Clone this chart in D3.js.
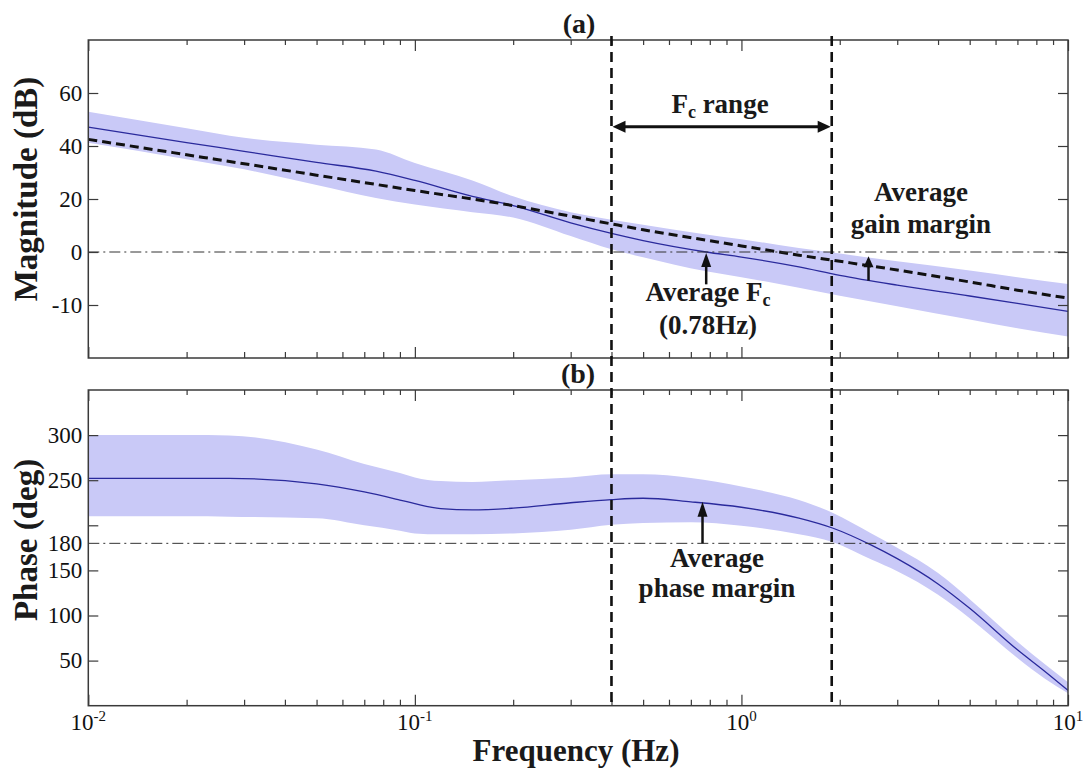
<!DOCTYPE html>
<html><head><meta charset="utf-8">
<script src="https://cdn.jsdelivr.net/npm/d3@7"></script>
<style>body{margin:0;background:#fff}svg{display:block}</style>
</head><body>
<svg id="c" width="1086" height="769"></svg>
<script>
// ---------- data ----------
const freqMag  = [0.01,0.02,0.03,0.05,0.076,0.1,0.15,0.2,0.3,0.4,0.5,0.78,1,1.5,2,3,5,7,10];
const magMean  = [47.1,41.3,38,33.8,30.5,27,21,17.5,11,7,4.3,0,-1.9,-5.6,-8.8,-12.5,-16.6,-19.4,-22.4];
const magModel = [42.5,36.7,33.3,29,25.5,23.2,20,17.5,13.5,10.6,8.4,4.5,2.3,-1.2,-3.5,-6.8,-11.3,-14.4,-17.4];
const magUpper = [52.9,46.7,43.1,40.5,38.7,33.6,27,21,15,12.2,10.3,6.6,4.8,1.5,-0.6,-3.5,-7,-9.5,-12.1];
const magLower = [41.2,35,31.2,25.3,20.4,17.9,15,13,6,1,-2,-7.3,-9.5,-13.5,-16.5,-20.5,-25.5,-28.8,-31.9];

const freqPh  = [0.01,0.02,0.027,0.05,0.07,0.09,0.1,0.12,0.15,0.2,0.3,0.4,0.5,0.7,1,1.5,1.9,2.5,3,4,5,7,8.5,10];
const phMean  = [252,252,252,246,237,228,224,218.5,217,219,225,228.5,230,226,220,208,197,178,163,135,108,62,38,17];
const phUpper = [300,300,299.5,284,268,258,253,249,248,250,253,256.5,256.5,252.5,243,228,214,191,175,147,118,71,46,26];
const phLower = [210,210,209.6,207.8,200,194,191,190,190,191,195,200.5,202.5,203.5,199.5,190,181.5,162,149,123,97,53,30,13.7];

const magTicks = [60,40,20,0,-20];
const magTickLabels = ["60","40","20","0","-10"];
const phTicks = [300,250,200,150,100,50];
const phTickLabels = ["300","250","","150","100","50"];
const phExtraTick = 180;
const xMajor = [0.01,0.1,1,10];
const xMajorExp = ["-2","-1","0","1"];
const fcRange = [0.4,1.89];
const fcAvg = 0.78;
const gmFreq = 2.45;
const gmRange = [-10.8,-1.6];
const pmFreq = 0.76;

// ---------- layout ----------
const svg = d3.select('#c');
const L = 88.3, R = 1068;
const top1 = 40, bot1 = 358, top2 = 390, bot2 = 705.7;
const x = d3.scaleLog().domain([0.01,10]).range([L,R]);
const yM = d3.scaleLinear().domain([-40,80]).range([bot1,top1]);
const yP = d3.scaleLinear().domain([0,350]).range([bot2,top2]);
const serif = "'Liberation Serif','Times New Roman',serif";
const bandCol = "#c9c9f7", lineCol = "#2a2a9c", axCol = "#3a3a3a";

const defs = svg.append('defs');
defs.append('clipPath').attr('id','cp1').append('rect').attr('x',L).attr('y',top1).attr('width',R-L).attr('height',bot1-top1);
defs.append('clipPath').attr('id','cp2').append('rect').attr('x',L).attr('y',top2).attr('width',R-L).attr('height',bot2-top2);

const magData = freqMag.map((f,i)=>({f,m:magMean[i],d:magModel[i],u:magUpper[i],l:magLower[i]}));
const phData = freqPh.map((f,i)=>({f,m:phMean[i],u:phUpper[i],l:phLower[i]}));

const g1 = svg.append('g').attr('clip-path','url(#cp1)');
g1.append('path').datum(magData).attr('fill',bandCol)
  .attr('d', d3.area().x(d=>x(d.f)).y0(d=>yM(d.l)).y1(d=>yM(d.u)).curve(d3.curveMonotoneX));
g1.append('path').datum(magData).attr('fill','none').attr('stroke',lineCol).attr('stroke-width',1.3)
  .attr('d', d3.line().x(d=>x(d.f)).y(d=>yM(d.m)).curve(d3.curveMonotoneX));
g1.append('path').datum(magData).attr('fill','none').attr('stroke','#111').attr('stroke-width',3)
  .attr('stroke-dasharray','9,5')
  .attr('d', d3.line().x(d=>x(d.f)).y(d=>yM(d.d)).curve(d3.curveMonotoneX));
g1.append('line').attr('x1',L).attr('x2',R).attr('y1',yM(0)).attr('y2',yM(0))
  .attr('stroke','#333').attr('stroke-width',1).attr('stroke-dasharray','11,4,2,4');

const g2 = svg.append('g').attr('clip-path','url(#cp2)');
g2.append('path').datum(phData).attr('fill',bandCol)
  .attr('d', d3.area().x(d=>x(d.f)).y0(d=>yP(d.l)).y1(d=>yP(d.u)).curve(d3.curveMonotoneX));
g2.append('path').datum(phData).attr('fill','none').attr('stroke',lineCol).attr('stroke-width',1.3)
  .attr('d', d3.line().x(d=>x(d.f)).y(d=>yP(d.m)).curve(d3.curveMonotoneX));
g2.append('line').attr('x1',L).attr('x2',R).attr('y1',yP(180)).attr('y2',yP(180))
  .attr('stroke','#333').attr('stroke-width',1).attr('stroke-dasharray','11,4,2,4');

// ---------- axes ----------
const minor = [];
[0.01,0.1,1].forEach(b=>{for(let k=2;k<=9;k++) minor.push(b*k);});
function xAxes(yTop, yBot){
  svg.append('g').attr('transform',`translate(0,${yBot})`).call(d3.axisBottom(x).tickValues(minor).tickSize(-6).tickSizeOuter(0).tickFormat(''));
  svg.append('g').attr('transform',`translate(0,${yBot})`).call(d3.axisBottom(x).tickValues(xMajor).tickSize(-11).tickSizeOuter(0).tickFormat(''));
  svg.append('g').attr('transform',`translate(0,${yTop})`).call(d3.axisTop(x).tickValues(minor).tickSize(-5).tickSizeOuter(0).tickFormat(''));
  svg.append('g').attr('transform',`translate(0,${yTop})`).call(d3.axisTop(x).tickValues(xMajor).tickSize(-11).tickSizeOuter(0).tickFormat(''));
}
xAxes(top1, bot1);
xAxes(top2, bot2);

svg.append('g').attr('transform',`translate(${L},0)`)
  .call(d3.axisLeft(yM).tickValues(magTicks).tickSize(-10).tickSizeOuter(0).tickPadding(6).tickFormat((d,i)=>magTickLabels[i]));
svg.append('g').attr('transform',`translate(${R},0)`)
  .call(d3.axisRight(yM).tickValues(magTicks).tickSize(-10).tickSizeOuter(0).tickFormat(''));
svg.append('g').attr('transform',`translate(${L},0)`)
  .call(d3.axisLeft(yP).tickValues(phTicks).tickSize(-10).tickSizeOuter(0).tickPadding(6).tickFormat((d,i)=>phTickLabels[i]));
svg.append('g').attr('transform',`translate(${R},0)`)
  .call(d3.axisRight(yP).tickValues(phTicks).tickSize(-10).tickSizeOuter(0).tickFormat(''));

svg.selectAll('.domain').remove();
svg.selectAll('.tick line').attr('stroke',axCol).attr('stroke-width',1.2);
svg.selectAll('.tick text').attr('font-family',serif).attr('font-size',23).attr('fill','#111');

svg.append('text').attr('x',L-6).attr('y',yP(phExtraTick)).attr('dy','0.32em').attr('text-anchor','end')
  .attr('font-family',serif).attr('font-size',23).attr('fill','#111').text(String(phExtraTick));

// frames
[[top1,bot1],[top2,bot2]].forEach(([t,b])=>{
  svg.append('rect').attr('x',L).attr('y',t).attr('width',R-L).attr('height',b-t)
    .attr('fill','none').attr('stroke',axCol).attr('stroke-width',1.5);
});

// x tick labels
const xl = svg.append('g').selectAll('text').data(xMajor).join('text')
  .attr('x',d=>x(d)).attr('y',730).attr('text-anchor','middle')
  .attr('font-family',serif).attr('font-size',23).attr('fill','#111');
xl.append('tspan').text('10');
xl.append('tspan').attr('dy',-9).attr('font-size',15).text((d,i)=>xMajorExp[i]);

// vertical dashed Fc range lines
svg.selectAll('.vd').data(fcRange).join('line').attr('class','vd')
  .attr('x1',d=>x(d)).attr('x2',d=>x(d)).attr('y1',36).attr('y2',bot2-2)
  .attr('stroke','#111').attr('stroke-width',2.6).attr('stroke-dasharray','10,6');

function arrowHead(xt, yt, dir, len, hw){
  let pts;
  if(dir==='up') pts=[[xt,yt],[xt-hw,yt+len],[xt+hw,yt+len]];
  if(dir==='left') pts=[[xt,yt],[xt+len,yt-hw],[xt+len,yt+hw]];
  if(dir==='right') pts=[[xt,yt],[xt-len,yt-hw],[xt-len,yt+hw]];
  svg.append('path').attr('d','M'+pts.map(p=>p.join(',')).join('L')+'Z').attr('fill','#111');
}
const ya = 126.7;
svg.append('line').attr('x1',x(fcRange[0])+8).attr('x2',x(fcRange[1])-8).attr('y1',ya).attr('y2',ya)
  .attr('stroke','#111').attr('stroke-width',3);
arrowHead(x(fcRange[0])+1, ya, 'left', 13, 6);
arrowHead(x(fcRange[1])-1, ya, 'right', 13, 6);

svg.append('line').attr('x1',x(fcAvg)).attr('x2',x(fcAvg)).attr('y1',yM(-12.2)).attr('y2',yM(0)+10)
  .attr('stroke','#111').attr('stroke-width',2.5);
arrowHead(x(fcAvg), yM(0)+1, 'up', 14, 5);

svg.append('line').attr('x1',x(gmFreq)).attr('x2',x(gmFreq)).attr('y1',yM(gmRange[0])).attr('y2',yM(gmRange[1])+8)
  .attr('stroke','#111').attr('stroke-width',2.5);
arrowHead(x(gmFreq), yM(gmRange[1]), 'up', 11, 5);

svg.append('line').attr('x1',x(pmFreq)).attr('x2',x(pmFreq)).attr('y1',yP(180)).attr('y2',yP(226)+10)
  .attr('stroke','#111').attr('stroke-width',2.5);
arrowHead(x(pmFreq), yP(226), 'up', 15, 5);

// ---------- texts ----------
function txt(xp, yp, s, size, opts={}){
  const t = svg.append('text').attr('x',xp).attr('y',yp).attr('text-anchor',opts.anchor||'middle')
    .attr('font-family',serif).attr('font-weight','bold').attr('font-size',size).attr('fill','#1a1a1a');
  if(s) t.text(s);
  if(opts.rot) t.attr('transform',`rotate(-90,${xp},${yp})`);
  return t;
}
txt(579, 33, '(a)', 28);
txt(578, 383, '(b)', 28);
txt(37, 189, 'Magnitude (dB)', 33, {rot:true});
txt(37, 540, 'Phase (deg)', 33, {rot:true});
txt(576, 761, 'Frequency (Hz)', 31);

const t1 = txt(720, 113, '', 27);
t1.append('tspan').text('F');
t1.append('tspan').attr('font-size',18).attr('dy',5).text('c');
t1.append('tspan').attr('dy',-5).text(' range');

const t2 = txt(708, 301, '', 27);
t2.append('tspan').text('Average F');
t2.append('tspan').attr('font-size',18).attr('dy',5).text('c');
txt(708, 334, '(0.78Hz)', 27);

txt(921, 201, 'Average', 27);
txt(921, 233, 'gain margin', 27);
txt(717, 567, 'Average', 27);
txt(717, 597, 'phase margin', 27);
</script>
</body></html>
